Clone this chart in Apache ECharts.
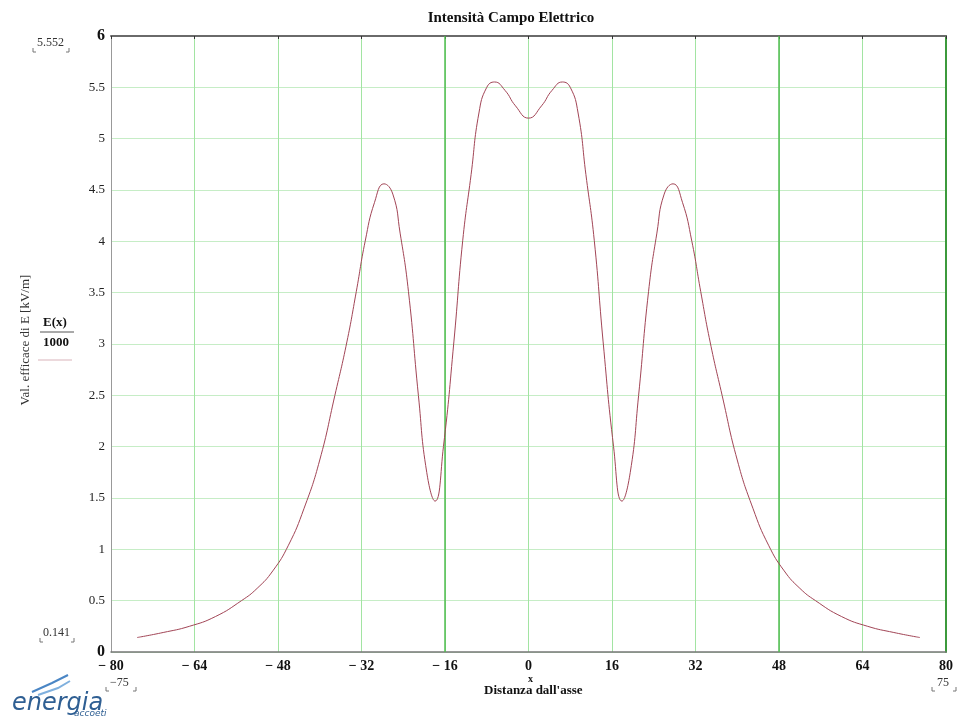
<!DOCTYPE html>
<html>
<head>
<meta charset="utf-8">
<script src="https://cdn.jsdelivr.net/npm/echarts@6/dist/echarts.min.js"></script>
<style>
  html, body { margin: 0; padding: 0; background: #fff; }
  #main { width: 963px; height: 720px; }
</style>
</head>
<body>
<div id="main"></div>
<script>
// distanza dall'asse [m]
const distances = [-75, -70, -65, -60, -55, -52, -49, -46, -43, -40, -37.1, -34.8, -33, -31.3, -29.5, -27.7, -26, -24.6, -23, -21.1, -19.5, -17.9, -16.3, -14.3, -12.6, -11, -9.5, -8, -6.5, -4.5, -2.5, 0,
  2.5, 4.5, 6.5, 8, 9.5, 11, 12.6, 14.3, 16.3, 17.9, 19.5, 21.1, 23, 24.6, 26, 27.7, 29.5, 31.3, 33, 34.8, 37.1, 40, 43, 46, 49, 52, 55, 60, 65, 70, 75];
// E(x)/1000 [kV/m]
const fieldValues = [0.141, 0.19, 0.25, 0.345, 0.5, 0.62, 0.79, 1.04, 1.4, 1.87, 2.5, 3.02, 3.51, 4.0, 4.38, 4.56, 4.46, 4.08, 3.51, 2.5, 1.75, 1.47, 2.0, 3.02, 4.01, 4.65, 5.25, 5.5, 5.552, 5.47, 5.32, 5.2,
  5.32, 5.47, 5.552, 5.5, 5.25, 4.65, 4.01, 3.02, 2.0, 1.47, 1.75, 2.5, 3.51, 4.08, 4.46, 4.56, 4.38, 4.0, 3.51, 3.02, 2.5, 1.87, 1.4, 1.04, 0.79, 0.62, 0.5, 0.345, 0.25, 0.19, 0.141];
const xTicks = [-80, -64, -48, -32, -16, 0, 16, 32, 48, 64, 80];
const yTicks = ['0', '0.5', '1', '1.5', '2', '2.5', '3', '3.5', '4', '4.5', '5', '5.5', '6'];
const darkGridX = [-16, 48];

const chart = echarts.init(document.getElementById('main'), null, { renderer: 'canvas' });
const serif = '"Liberation Serif", "DejaVu Serif", serif';

const points = distances.map((d, i) => [d, fieldValues[i]]);

// small corner brackets round the min/max annotations
function bracket(x, y, w) {
  return [
    { type: 'polyline', shape: { points: [[x, y - 4], [x, y], [x + 3, y]] }, style: { stroke: '#777', lineWidth: 1, fill: null } },
    { type: 'polyline', shape: { points: [[x + w - 3, y], [x + w, y], [x + w, y - 4]] }, style: { stroke: '#777', lineWidth: 1, fill: null } }
  ];
}

const option = {
  backgroundColor: '#fff',
  animation: false,
  title: {
    text: 'Intensità Campo Elettrico',
    left: 506, top: 6, textAlign: 'center',
    textStyle: { fontFamily: serif, fontSize: 15, fontWeight: 'bold', color: '#111' }
  },
  grid: { left: 111, right: 17, top: 36, bottom: 68 },
  xAxis: [{
    type: 'value', min: -80, max: 80, interval: 16,
    axisLine: { onZero: false, lineStyle: { color: '#777', width: 1.5 } },
    axisTick: { show: false },
    axisLabel: {
      margin: 7, fontFamily: serif, fontSize: 14, fontWeight: 'bold', color: '#111',
      formatter: v => xTicks.indexOf(v) >= 0 ? String(v).replace('-', '− ') : ''
    },
    splitLine: { lineStyle: { width: 1, color: '#a2e4a2' } }
  }, {
    type: 'value', min: -80, max: 80, interval: 16, position: 'top',
    axisLine: { onZero: false, lineStyle: { color: '#6a6a6a', width: 2 } },
    axisTick: { show: true, inside: true, length: 3, lineStyle: { color: '#333' } },
    axisLabel: { show: false },
    splitLine: { show: false }
  }],
  yAxis: [{
    type: 'value', min: 0, max: 6, interval: 0.5,
    axisLine: { show: true, onZero: false, lineStyle: { color: '#999', width: 1 } },
    axisTick: { show: false },
    axisLabel: {
      margin: 6, fontFamily: serif, fontSize: 13, color: '#222',
      formatter: v => {
        const s = yTicks[Math.round(v * 2)];
        return (v === 6 || v === 0) ? '{b|' + s + '}' : s;
      },
      rich: { b: { fontFamily: serif, fontSize: 16, fontWeight: 'bold', color: '#111' } }
    },
    splitLine: { lineStyle: { color: '#c6edc6', width: 1 } }
  }, {
    type: 'value', min: 0, max: 6, interval: 0.5, position: 'right',
    axisLine: { show: true, onZero: false, lineStyle: { color: '#3c9a3c', width: 2 } },
    axisTick: { show: false },
    axisLabel: { show: false },
    splitLine: { show: false }
  }],
  series: [{
    type: 'line',
    data: points,
    smooth: 0.5,
    showSymbol: false,
    lineStyle: { color: '#a24556', width: 1 },
    z: 5,
    markLine: {
      silent: true, symbol: 'none', label: { show: false },
      data: darkGridX.map(v => ({ xAxis: v, lineStyle: { color: '#52be52', width: 1.5, type: 'solid', opacity: 1 } }))
    }
  }],
  graphic: [
    { type: 'text', left: 37, top: 37, style: { text: '5.552', font: '12px ' + serif, fill: '#333' } },
    ...bracket(33, 52, 36),
    { type: 'text', left: 43, top: 627, style: { text: '0.141', font: '12px ' + serif, fill: '#333' } },
    ...bracket(40, 642, 34),
    { type: 'text', left: 110, top: 677, style: { text: '−75', font: '12px ' + serif, fill: '#333' } },
    ...bracket(106, 691, 30),
    { type: 'text', left: 937, top: 677, style: { text: '75', font: '12px ' + serif, fill: '#333' } },
    ...bracket(932, 691, 24),
    { type: 'text', left: 528, top: 674, style: { text: 'x', font: 'bold 10px ' + serif, fill: '#111' } },
    { type: 'text', left: 484, top: 684, style: { text: "Distanza dall'asse", font: 'bold 13px ' + serif, fill: '#111' } },
    {
      type: 'text', x: 26, y: 340, rotation: Math.PI / 2,
      style: { text: 'Val. efficace di E [kV/m]', font: '13px ' + serif, fill: '#333', align: 'center', verticalAlign: 'middle' }
    },
    { type: 'text', left: 43, top: 316, style: { text: 'E(x)', font: 'bold 13px ' + serif, fill: '#111' } },
    { type: 'line', shape: { x1: 40, y1: 332, x2: 74, y2: 332 }, style: { stroke: '#555', lineWidth: 1 } },
    { type: 'text', left: 43, top: 336, style: { text: '1000', font: 'bold 13px ' + serif, fill: '#111' } },
    { type: 'line', shape: { x1: 38, y1: 360, x2: 72, y2: 360 }, style: { stroke: '#d9b3ba', lineWidth: 1 } },
    // logo
    { type: 'polyline', shape: { points: [[32, 692], [52, 683], [68, 675]] }, style: { stroke: '#4a86c5', lineWidth: 2, fill: null } },
    { type: 'polyline', shape: { points: [[38, 695], [58, 688], [70, 681]] }, style: { stroke: '#7fb0de', lineWidth: 2, fill: null } },
    { type: 'text', left: 12, top: 692, style: { text: 'energia', font: 'italic 24px "DejaVu Sans", sans-serif', fill: '#2f5f93' } },
    { type: 'text', left: 74, top: 709, style: { text: 'accoeti', font: 'italic 9px "DejaVu Sans", sans-serif', fill: '#2f5f93' } }
  ]
};

chart.setOption(option);
</script>
</body>
</html>
